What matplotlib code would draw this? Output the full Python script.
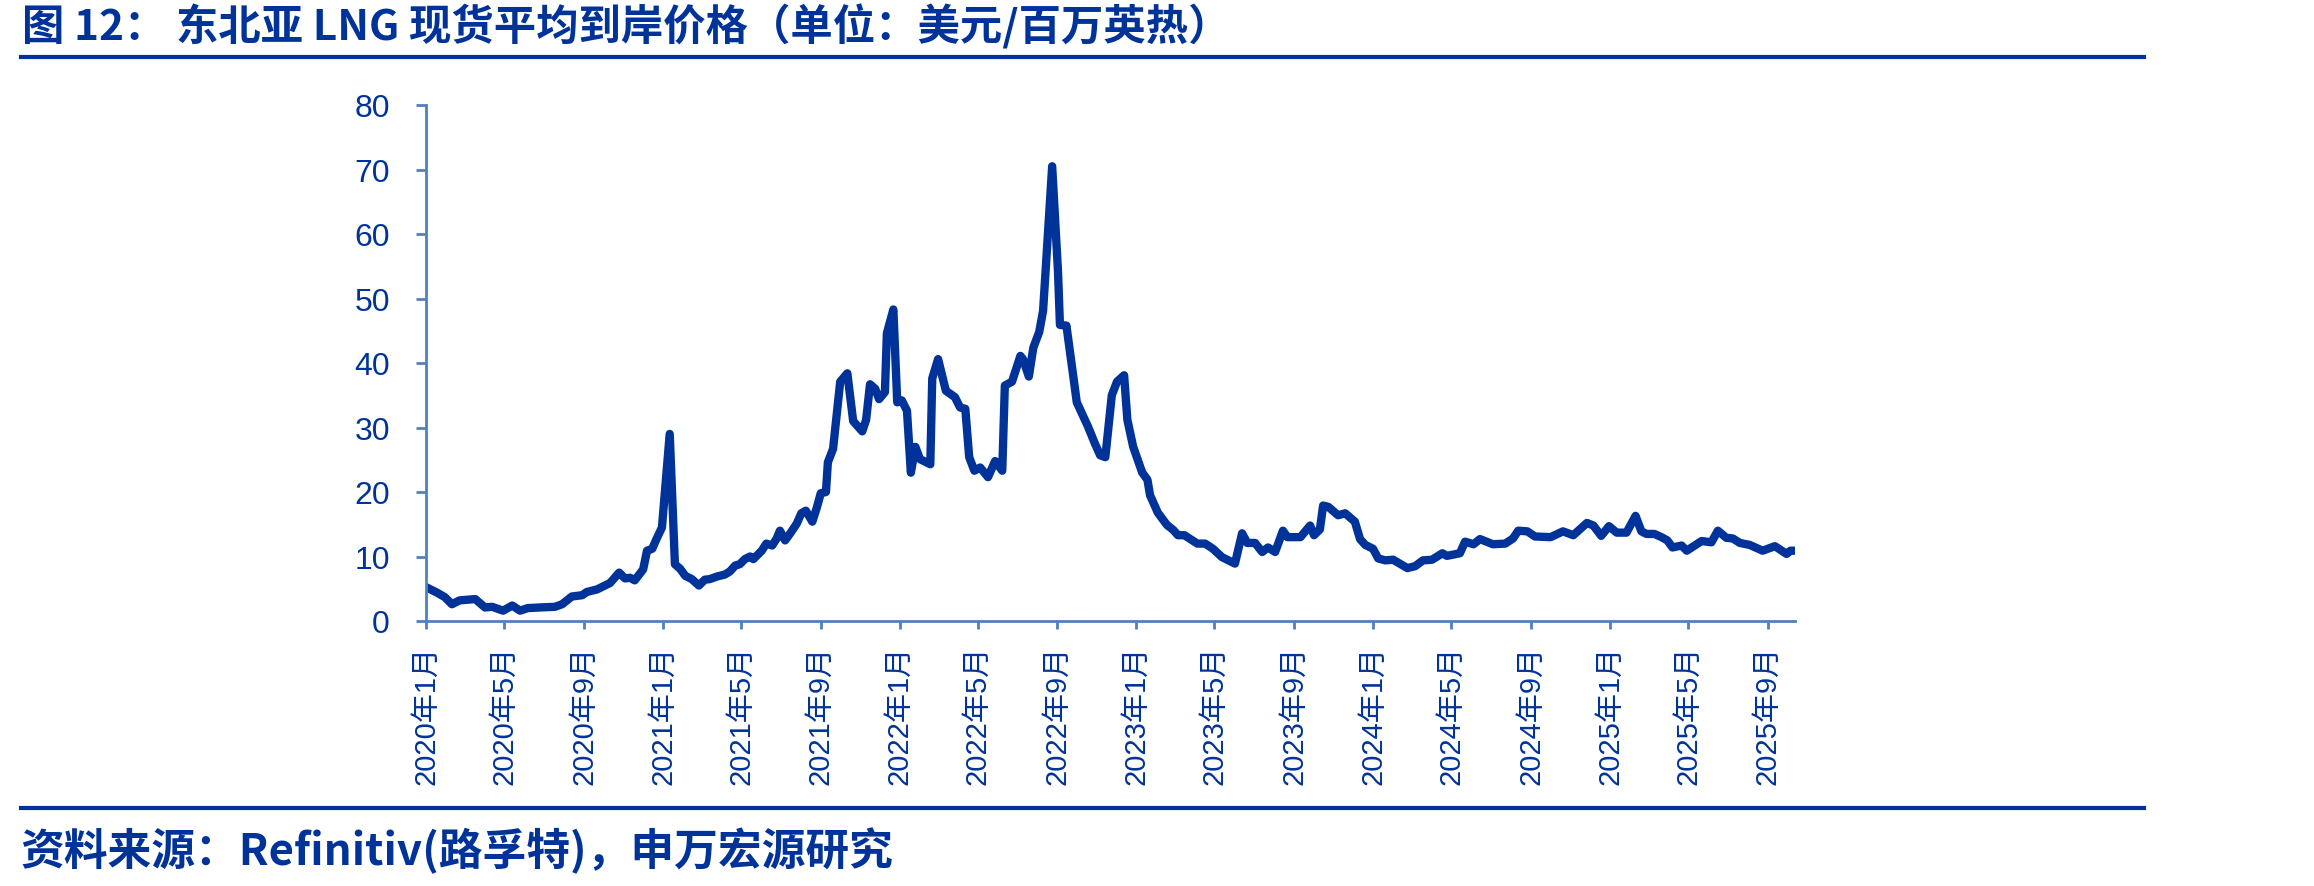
import matplotlib
matplotlib.use('Agg')
import matplotlib.pyplot as plt
from matplotlib.lines import Line2D
import pandas as pd

plt.rcParams['font.family'] = ['Liberation Sans', 'Noto Sans CJK SC']

title = "图 12： 东北亚 LNG 现货平均到岸价格（单位：美元/百万英热）"
source = "资料来源：Refinitiv(路孚特)，申万宏源研究"

dates = [
    "2020-01-02", "2020-01-18", "2020-01-30", "2020-02-10", "2020-02-22", "2020-03-17",
    "2020-04-01", "2020-04-12", "2020-04-29", "2020-05-13", "2020-05-25", "2020-06-06",
    "2020-06-25", "2020-07-18", "2020-07-29", "2020-08-13", "2020-08-29", "2020-09-05",
    "2020-09-21", "2020-10-11", "2020-10-25", "2020-11-03", "2020-11-11", "2020-11-18",
    "2020-12-01", "2020-12-07", "2020-12-15", "2020-12-22", "2020-12-30", "2021-01-11",
    "2021-01-19", "2021-01-27", "2021-02-04", "2021-02-14", "2021-02-25", "2021-03-06",
    "2021-03-14", "2021-03-25", "2021-04-06", "2021-04-14", "2021-04-22", "2021-04-29",
    "2021-05-07", "2021-05-15", "2021-05-20", "2021-06-02", "2021-06-09", "2021-06-18",
    "2021-06-25", "2021-06-30", "2021-07-08", "2021-07-16", "2021-07-26", "2021-08-02",
    "2021-08-09", "2021-08-19", "2021-08-26", "2021-09-01", "2021-09-09", "2021-09-12",
    "2021-09-20", "2021-10-01", "2021-10-12", "2021-10-21", "2021-11-04", "2021-11-10",
    "2021-11-16", "2021-11-24", "2021-11-30", "2021-12-09", "2021-12-12", "2021-12-22",
    "2021-12-28", "2022-01-04", "2022-01-12", "2022-01-18", "2022-01-25", "2022-02-01",
    "2022-02-17", "2022-02-20", "2022-03-01", "2022-03-13", "2022-03-27", "2022-04-04",
    "2022-04-12", "2022-04-18", "2022-04-26", "2022-05-05", "2022-05-17", "2022-05-28",
    "2022-06-08", "2022-06-12", "2022-06-23", "2022-07-06", "2022-07-10", "2022-07-19",
    "2022-07-26", "2022-08-04", "2022-08-10", "2022-08-24", "2022-09-02", "2022-09-05",
    "2022-09-15", "2022-10-01", "2022-10-18", "2022-10-29", "2022-11-06", "2022-11-14",
    "2022-11-24", "2022-12-02", "2022-12-13", "2022-12-18", "2022-12-27", "2023-01-10",
    "2023-01-18", "2023-01-22", "2023-02-03", "2023-02-17", "2023-02-27", "2023-03-06",
    "2023-03-16", "2023-04-05", "2023-04-17", "2023-04-29", "2023-05-13", "2023-06-02",
    "2023-06-13", "2023-06-21", "2023-07-03", "2023-07-14", "2023-07-23", "2023-08-03",
    "2023-08-15", "2023-08-22", "2023-09-11", "2023-09-26", "2023-10-02", "2023-10-11",
    "2023-10-16", "2023-10-24", "2023-11-08", "2023-11-19", "2023-12-04", "2023-12-12",
    "2023-12-20", "2024-01-01", "2024-01-09", "2024-01-20", "2024-02-01", "2024-02-23",
    "2024-03-06", "2024-03-18", "2024-04-01", "2024-04-17", "2024-04-24", "2024-05-14",
    "2024-05-22", "2024-06-04", "2024-06-14", "2024-07-04", "2024-07-23", "2024-08-04",
    "2024-08-12", "2024-08-26", "2024-09-07", "2024-10-01", "2024-10-20", "2024-11-05",
    "2024-11-26", "2024-12-06", "2024-12-18", "2024-12-30", "2025-01-11", "2025-01-26",
    "2025-02-09", "2025-02-18", "2025-02-26", "2025-03-10", "2025-03-21", "2025-03-30",
    "2025-04-07", "2025-04-21", "2025-04-29", "2025-05-22", "2025-06-06", "2025-06-16",
    "2025-06-29", "2025-07-09", "2025-07-20", "2025-08-04", "2025-08-24", "2025-09-12",
    "2025-09-30", "2025-10-06", "2025-10-13",
]

prices = [
    5.2, 4.4, 3.7, 2.6, 3.2, 3.4,
    2.1, 2.2, 1.6, 2.4, 1.6, 2.0,
    2.1, 2.2, 2.6, 3.8, 4.0, 4.5,
    4.9, 5.9, 7.5, 6.6, 6.7, 6.3,
    8.0, 10.9, 11.2, 12.8, 14.5, 29.0,
    8.8, 8.1, 7.0, 6.5, 5.5, 6.4,
    6.5, 6.9, 7.2, 7.7, 8.6, 8.8,
    9.6, 10.0, 9.6, 10.9, 12.0, 11.7,
    12.8, 14.0, 12.5, 13.6, 15.1, 16.7,
    17.1, 15.4, 17.6, 19.8, 20.0, 24.6,
    26.7, 37.1, 38.4, 31.0, 29.4, 31.2,
    36.7, 36.0, 34.4, 35.5, 44.6, 48.3,
    33.9, 34.2, 32.6, 23.0, 27.0, 25.1,
    24.3, 37.6, 40.6, 35.7, 34.7, 33.1,
    32.9, 25.4, 23.3, 23.8, 22.3, 24.8,
    23.3, 36.5, 37.1, 41.1, 40.6, 37.9,
    42.4, 44.8, 48.1, 70.5, 54.2, 45.9,
    45.8, 33.9, 30.2, 27.5, 25.7, 25.4,
    35.0, 37.1, 38.1, 31.2, 27.0, 23.0,
    21.9, 19.5, 16.8, 14.9, 14.1, 13.3,
    13.3, 12.0, 12.0, 11.2, 9.9, 8.9,
    13.6, 12.1, 12.1, 10.7, 11.4, 10.7,
    14.0, 13.0, 13.0, 14.8, 13.3, 14.2,
    17.9, 17.7, 16.4, 16.7, 15.4, 12.7,
    11.8, 11.2, 9.7, 9.4, 9.5, 8.2,
    8.5, 9.4, 9.5, 10.5, 10.1, 10.5,
    12.3, 11.9, 12.7, 11.9, 12.0, 12.8,
    14.0, 13.9, 13.1, 13.0, 13.9, 13.3,
    15.2, 14.8, 13.2, 14.7, 13.7, 13.7,
    16.3, 13.9, 13.5, 13.5, 13.0, 12.5,
    11.4, 11.7, 10.9, 12.4, 12.2, 14.0,
    12.9, 12.8, 12.1, 11.8, 10.9, 11.6,
    10.4, 10.9, 10.9,
]

y_ticks = [0, 10, 20, 30, 40, 50, 60, 70, 80]
x_tick_dates = pd.date_range("2020-01-01", "2025-09-01", freq="4MS")
x_tick_labels = [f"{d.year}年{d.month}月" for d in x_tick_dates]

DARK = "#003399"
AXIS = "#4F81BD"
W, H = 2314, 887

fig = plt.figure(figsize=(W / 100, H / 100), dpi=100)
ax = fig.add_axes([426 / W, 1 - 622 / H, (1795 - 426) / W, (622 - 106) / H])

x = pd.to_datetime(dates)
ax.plot(x, prices, color=DARK, lw=6.0, solid_joinstyle="round", solid_capstyle="round")

ax.set_ylim(0, 80)
ax.set_yticks(y_ticks)
ax.set_xlim(pd.Timestamp("2020-01-01"), pd.Timestamp("2025-10-13"))
ax.set_xticks(x_tick_dates)
ax.set_xticklabels(x_tick_labels, rotation=90)

for s in ["top", "right"]:
    ax.spines[s].set_visible(False)
for s in ["left", "bottom"]:
    ax.spines[s].set_color(AXIS)
    ax.spines[s].set_linewidth(2.0)

ax.tick_params(axis="y", colors=AXIS, length=7, width=2.0, pad=19,
               labelsize=23, labelcolor=DARK)
ax.tick_params(axis="x", colors=AXIS, length=6, width=2.0, pad=11,
               labelsize=21, labelcolor=DARK)
ax.set_facecolor("white")

fig.text(22 / W, 1 - 27 / H, title, fontsize=30.5, fontweight="bold", color=DARK,
         family=["Noto Sans CJK SC", "DejaVu Sans"], ha="left", va="center")
fig.text(21 / W, 1 - 851 / H, source, fontsize=31.5, fontweight="bold", color=DARK,
         family=["Noto Sans CJK SC", "DejaVu Sans"], ha="left", va="center")

for yy in (58, 809):
    fig.add_artist(Line2D([21 / W, 2144 / W], [1 - yy / H, 1 - yy / H],
                          lw=3.0, color=DARK, transform=fig.transFigure))

fig.savefig("out.png", dpi=100, facecolor="white")
